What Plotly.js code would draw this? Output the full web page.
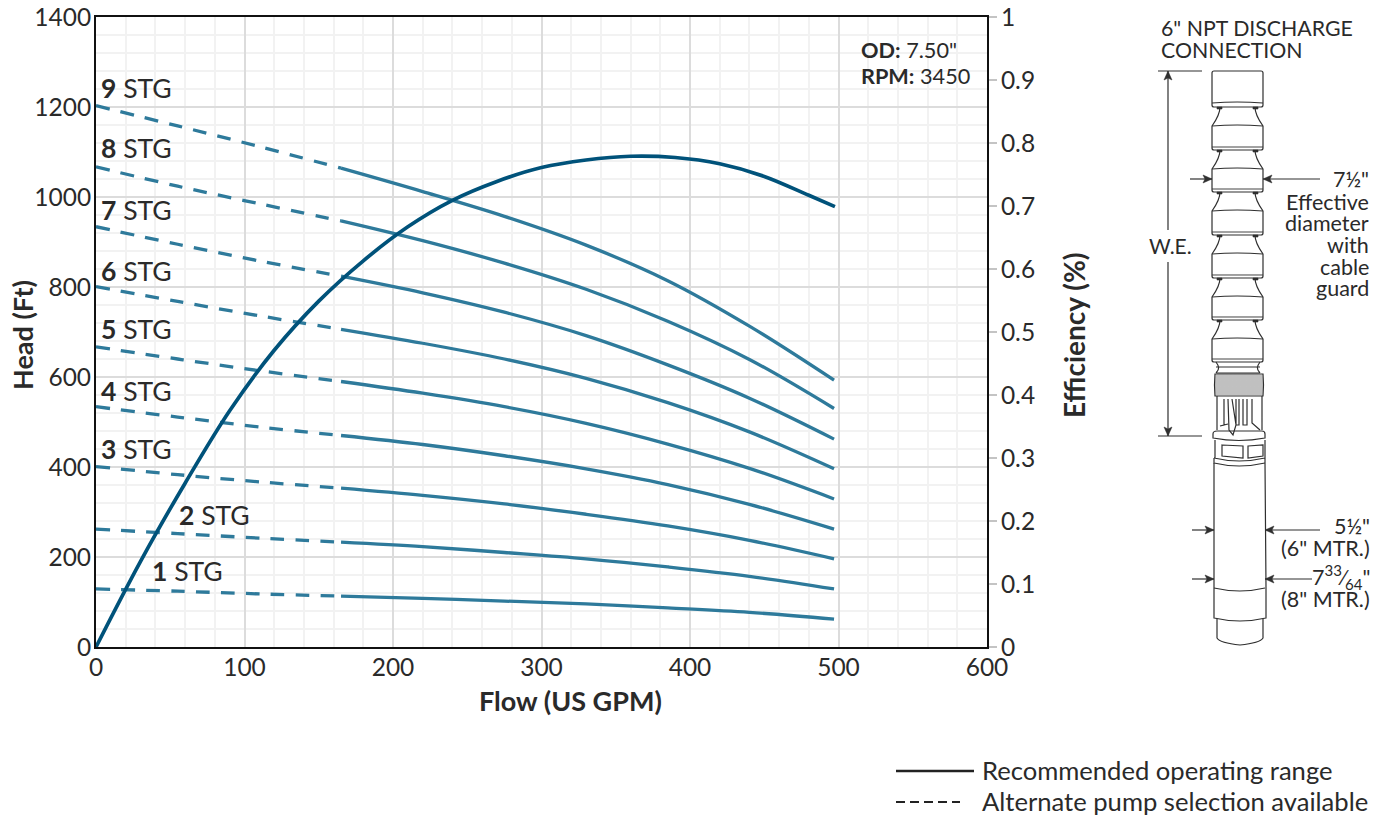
<!DOCTYPE html>
<html><head><meta charset="utf-8">
<script src="https://cdn.plot.ly/plotly-3.0.1.min.js"></script>
<style>html,body{margin:0;padding:0;background:#fff}</style></head>
<body><div id="chart" style="width:1382px;height:817px"></div>
<script>
const flow=[0,55,110,165,220,275,330,385,440,497];
const stg1=[129,124,118,113,108,102,96,87,77,62];
const stg2=[262,252,242,233,223,210,196,178,157,129];
const stg3=[401,383,367,353,337,318,295,269,237,196];
const stg4=[534,511,489,470,450,425,396,361,317,262];
const stg5=[667,640,614,590,564,534,497,451,397,329];
const stg6=[801,768,736,706,675,640,597,543,478,396];
const stg7=[934,895,858,824,787,744,692,627,553,462];
const stg8=[1067,1024,985,947,903,853,795,724,639,530];
const stg9=[1203,1158,1112,1064,1012,957,893,814,713,593];
const stages=[stg1,stg2,stg3,stg4,stg5,stg6,stg7,stg8,stg9];
const effFlow=[0,30,60,90,120,150,180,210,240,270,300,330,360,390,420,450,480,497.6];
const effVal=[0,.136,.26,.375,.471,.549,.613,.667,.709,.739,.761,.773,.779,.777,.767,.747,.717,.699];
const xTicks=[0,100,200,300,400,500,600];
const yTicks=[0,200,400,600,800,1000,1200,1400];
const effTicks=[0,.1,.2,.3,.4,.5,.6,.7,.8,.9,1];
const effTickText=["0","0.1","0.2","0.3","0.4","0.5","0.6","0.7","0.8","0.9","1"];

const FONT="Lato, sans-serif", TXT="#2a2a2a", HEAD="#2e7a9b", EFF="#00527a", INK="#2f2f2f";
const L=96,T=17,W=891,H=630;
const px=x=>(x-L)/W, py=y=>(T+H-y)/H;
const conv=s=>s.replace(/(-?[\d.]+),(-?[\d.]+)/g,(m,a,b)=>px(+a).toFixed(5)+","+py(+b).toFixed(5));
const shapes=[];
function draw(d,opt={}){shapes.push({type:"path",xref:"paper",yref:"paper",path:conv(d),
  line:{color:opt.color||INK,width:opt.width||1.2,dash:opt.dash||"solid"},fillcolor:opt.fill||"rgba(0,0,0,0)",layer:"above"});}
const ann=[];
function text(x,y,t,size,anchor,extra={}){
  const a=anchor||"left", dx=a==="right"?2:(a==="left"?-1:0);
  ann.push(Object.assign({xref:"paper",yref:"paper",x:px(x+dx),y:py(y-1),text:t,showarrow:false,
  xanchor:a,yanchor:"middle",align:a,font:{family:FONT,size:size,color:TXT},borderpad:0},extra));}

// stage labels
[[9,101,89],[8,101,149],[7,101,211],[6,101,272],[5,101,330],[4,101,392],[3,101,450],[2,179,516],[1,152,572]]
 .forEach(a=>text(a[1],a[2],"<b>"+a[0]+"</b> STG",26.5,"left"));
text(861,51,'<b>OD:</b> 7.50"',21.7,"left");
text(861,77,'<b>RPM:</b> 3450',21.7,"left");
text(570,701,"<b>Flow (US GPM)</b>",27,"center");
text(22,336,"<b>Head (Ft)</b>",27,"center",{textangle:-90});
text(1074,336,"<b>Efficiency (%)</b>",28,"center",{textangle:-90});
// key
draw("M896,771 L974,771",{width:2.5,color:"#222"});
draw("M896,802 L960,802",{width:2.2,color:"#222",dash:"9px,5px"});
text(982,771,"Recommended operating range",25.6,"left");
text(982,802,"Alternate pump selection available",25.6,"left");
// pump text
text(1161,29,'6" NPT DISCHARGE',21.3,"left");
text(1161,51,'CONNECTION',21.3,"left");
text(1170,246,'W.E.',21,"center");
text(1368,180,'7½"',21.5,"right");
[["Effective",203],["diameter",224],["with",246],["cable",268],["guard",289]].forEach(a=>text(1368,a[1],a[0],21.5,"right"));
text(1369,527,'5½"',21.5,"right");
text(1369,549,'(6" MTR.)',21.5,"right");
text(1369,578,'7<sup>33</sup>⁄<sub>64</sub>"',21.5,"right");
text(1369,600,'(8" MTR.)',21.5,"right");

// pump drawing
const A=(tx,y,dir)=>draw(`M${tx},${y} L${tx+dir*9},${y-4} L${tx+dir*7},${y} L${tx+dir*9},${y+4} Z`,{fill:INK,width:.5});
const AV=(x,ty,dir)=>draw(`M${x},${ty} L${x-4},${ty+dir*9} L${x},${ty+dir*7} L${x+4},${ty+dir*9} Z`,{fill:INK,width:.5});
draw("M1158,71 L1202,71"); draw("M1158,436 L1202,436");
draw("M1168,71 L1168,230"); draw("M1168,262 L1168,436"); AV(1168,71,1); AV(1168,436,-1);
draw("M1190,179 L1212,179"); A(1212,179,-1); draw("M1263,179 L1320,179"); A(1263,179,1);
draw("M1192,530 L1214,530"); A(1214,530,-1); draw("M1265,530 L1320,530"); A(1265,530,1);
draw("M1192,579 L1214,579"); A(1214,579,-1); draw("M1265,579 L1312,579"); A(1265,579,1);
draw("M1214,71 L1261,71 Q1263,71 1263,73 L1263,105 Q1263,107 1261,107 L1214,107 Q1212,107 1212,105 L1212,73 Q1212,71 1214,71 Z");
draw("M1212,103 Q1237,101 1263,103");
const stageEdges=[107,150,192,235,278,320,362];
for(let i=0;i<stageEdges.length-1;i++){
  const a=stageEdges[i], b=stageEdges[i+1];
  draw(`M1220,${a} C1220,${a+6} 1217,${a+12} 1212,${a+19} L1212,${b-2} Q1212,${b} 1214,${b} L1261,${b} Q1263,${b} 1263,${b-2} L1263,${a+19} C1258,${a+12} 1255,${a+6} 1255,${a}`);
  draw(`M1212,${a+19} Q1237,${a+17} 1263,${a+19}`);
  draw(`M1212,${b-3} L1263,${b-3}`,{width:.9});
  draw(`M1217,${a} L1222,${a} L1222,${a+2} L1217,${a+2} Z M1253,${a} L1258,${a} L1258,${a+2} L1253,${a+2} Z`,{fill:INK,width:.6});
}
// collar under the last stage
draw("M1216,362 C1219,366 1220,369 1216,373 M1260,362 C1257,366 1256,369 1260,373 M1216,367 L1260,367 M1216,373 L1260,373");
// screen, crosshatched
draw("M1215,374 L1263,374 Q1264,385 1263,396 L1215,396 Q1214,385 1215,374 Z",{fill:"#ececec"});
let hatch="";
for(let y=376;y<396;y+=2) hatch+=`M1215,${y} L1263,${y} `;
for(let x=1216;x<1263;x+=2) hatch+=`M${x},375 L${x},395 `;
draw(hatch,{width:.45,color:"#808080"});
// intake legs
draw("M1217,396 L1217,430 M1262,396 L1262,430 M1224,399 L1224,425 L1220,426 L1228,424 M1228,399 L1229,430 L1233,435 L1236,425 L1232,399 M1236,399 L1236,425 L1239,425 L1239,399 M1243,399 L1243,425 L1247,425 L1247,399 M1252,399 L1252,423 L1260,430");
// motor head
draw("M1213,434 Q1213,431 1217,431 L1262,431 Q1265,431 1265,434 L1265,438 Q1239,443 1213,438 Z");
draw("M1215,440 L1215,458 M1265,440 L1265,463 M1214,458 Q1239,464 1265,458");
draw("M1222,445 L1243,446 L1243,458 L1222,456 Z M1248,446 L1263,445 L1263,456 L1248,458 Z");
draw("M1214,458 L1214,463 Q1239,469 1265,463");
// motor body and tail
draw("M1214,463 L1214,588 L1214,618 Q1240,624 1266,618 L1266,588 L1265,463");
draw("M1214,588 Q1240,594 1265,588");
draw("M1217,619 L1217,638 Q1220,643 1240,645 Q1260,643 1263,638 L1263,619");

// traces: the first four flow points are the dashed part, the rest the solid part
const traces=[];
stages.forEach((s,i)=>{
  traces.push({x:flow.slice(0,4),y:s.slice(0,4),type:"scatter",mode:"lines",showlegend:false,hoverinfo:"skip",
    name:(i+1)+" STG dashed",line:{color:HEAD,width:3.3,dash:"13.7px,11.3px",shape:"spline",smoothing:1}});
  traces.push({x:flow.slice(3),y:s.slice(3),type:"scatter",mode:"lines",showlegend:false,hoverinfo:"skip",
    name:(i+1)+" STG",line:{color:HEAD,width:3.3,shape:"spline",smoothing:1}});
});
traces.push({x:effFlow,y:effVal,yaxis:"y2",type:"scatter",mode:"lines",showlegend:false,hoverinfo:"skip",name:"Efficiency",
  line:{color:EFF,width:3.7,shape:"spline",smoothing:1}});

const tickFont={family:FONT,size:24.5,color:TXT};
const layout={width:1382,height:817,autosize:false,margin:{l:L,t:T,r:1382-L-W,b:817-T-H,pad:0},
  paper_bgcolor:"#fff",plot_bgcolor:"#fff",showlegend:false,font:{family:FONT,color:TXT},
  xaxis:{range:[0,600],tickmode:"array",tickvals:xTicks,ticks:"",tickfont:tickFont,showgrid:true,gridcolor:"#dcdcdc",gridwidth:2,
    minor:{dtick:20,showgrid:true,gridcolor:"#f2f2f2",gridwidth:2,ticks:""},zeroline:false,showline:true,linecolor:"#111",linewidth:2,mirror:true,ticklabelstandoff:-2},
  yaxis:{range:[0,1400],tickmode:"array",tickvals:yTicks,ticks:"",tickfont:tickFont,showgrid:true,gridcolor:"#dcdcdc",gridwidth:2,
    minor:{dtick:40,showgrid:true,gridcolor:"#f2f2f2",gridwidth:2,ticks:""},zeroline:false,showline:true,linecolor:"#111",linewidth:2,ticklabelstandoff:-2},
  yaxis2:{range:[0,1],overlaying:"y",side:"right",tickmode:"array",tickvals:effTicks,ticktext:effTickText,ticks:"outside",ticklen:8,tickwidth:2,tickcolor:"#c4c4c4",
    tickfont:tickFont,showgrid:false,zeroline:false,showline:true,linecolor:"#111",linewidth:2,ticklabelstandoff:-1},
  shapes:shapes,annotations:ann};
Plotly.newPlot("chart",traces,layout,{displayModeBar:false,staticPlot:true});
</script></body></html>
